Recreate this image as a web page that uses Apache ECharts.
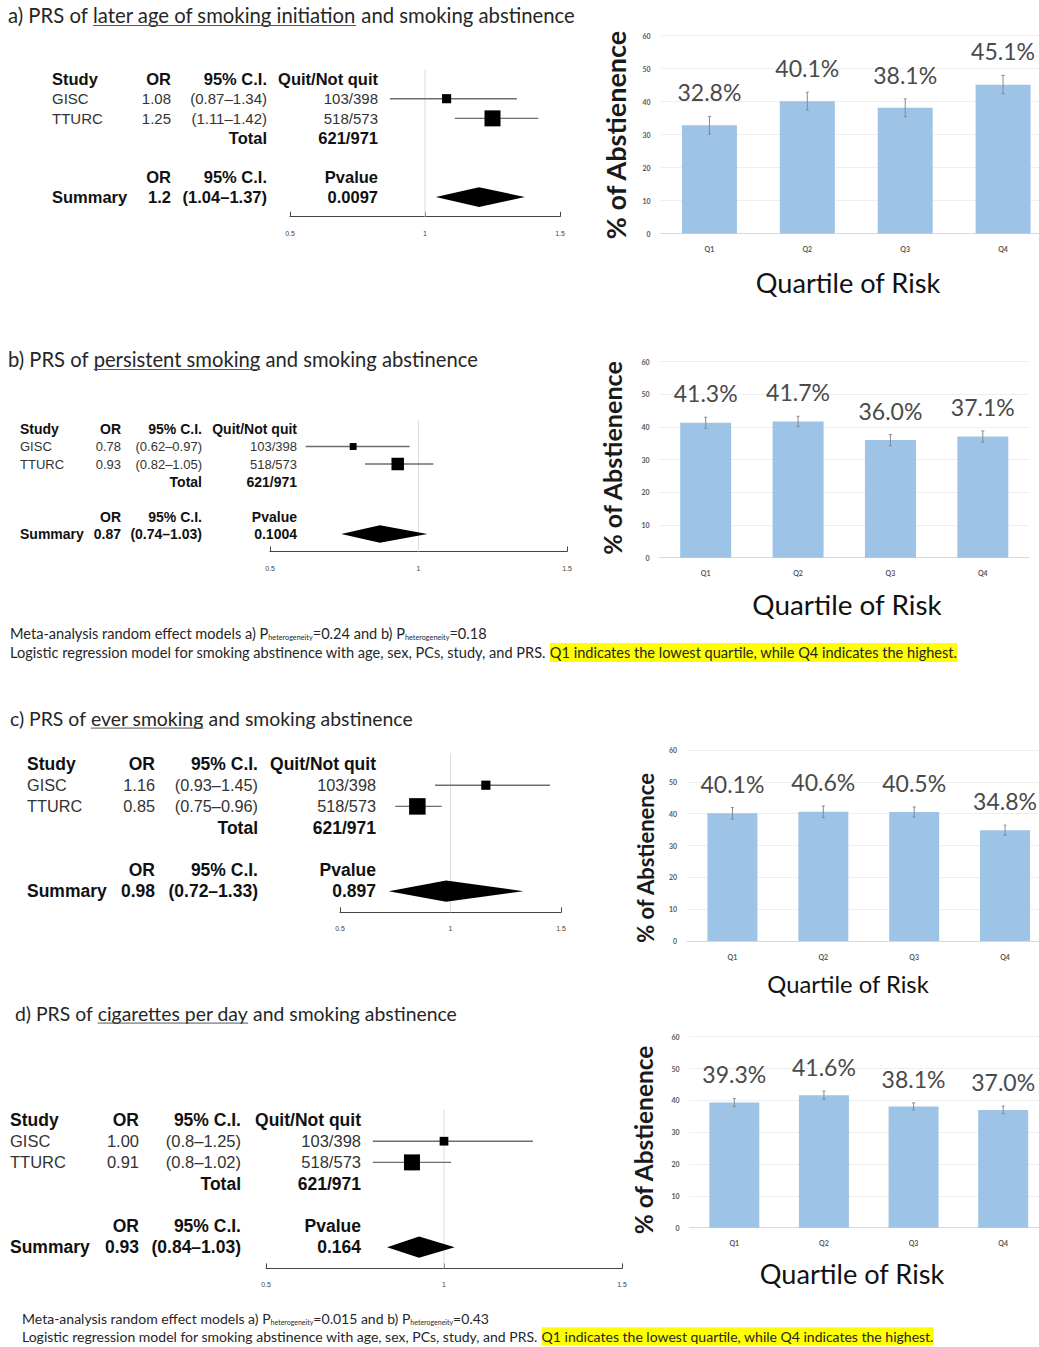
<!DOCTYPE html>
<html>
<head>
<meta charset="utf-8">
<script src="https://cdn.jsdelivr.net/npm/echarts@6/dist/echarts.min.js"></script>
<style>
  html, body { margin: 0; padding: 0; background: #ffffff; }
  #chart { width: 1039px; height: 1347px; }
</style>
</head>
<body>
<div id="chart"></div>
<script>
// ---------------- data ----------------
const panelLetters = ['a', 'b', 'c', 'd'];
const prsTraits = ['later age of smoking initiation', 'persistent smoking', 'ever smoking', 'cigarettes per day'];

const studyNames = ['GISC', 'TTURC'];
const studyQuitNotQuit = ['103/398', '518/573'];
const totalQuitNotQuit = '621/971';

// odds ratios and 95% CI per study, as printed in the tables
const studyOR     = [['1.08', '1.25'], ['0.78', '0.93'], ['1.16', '0.85'], ['1.00', '0.91']];
const studyCILow  = [['0.87', '1.11'], ['0.62', '0.82'], ['0.93', '0.75'], ['0.8', '0.8']];
const studyCIHigh = [['1.34', '1.42'], ['0.97', '1.05'], ['1.45', '0.96'], ['1.25', '1.02']];

// random-effects summary per panel
const summaryOR     = ['1.2', '0.87', '0.98', '0.93'];
const summaryCILow  = ['1.04', '0.74', '0.72', '0.84'];
const summaryCIHigh = ['1.37', '1.03', '1.33', '1.03'];
const summaryPvalue = ['0.0097', '0.1004', '0.897', '0.164'];

const orAxisMin = 0.5, orAxisMax = 1.5, orAxisStep = 0.5, orNull = 1;

// abstinence by PRS quartile
const quartiles = ['Q1', 'Q2', 'Q3', 'Q4'];
const abstinencePct = [
  [32.8, 40.1, 38.1, 45.1],
  [41.3, 41.7, 36.0, 37.1],
  [40.1, 40.6, 40.5, 34.8],
  [39.3, 41.6, 38.1, 37.0]
];
const abstinenceErr = [
  [2.7, 2.7, 2.7, 2.8],
  [1.7, 1.6, 1.7, 1.7],
  [1.8, 1.8, 1.6, 1.6],
  [1.3, 1.3, 1.1, 1.2]
];
const pctAxisMax = 60, pctAxisStep = 10;

const heterogeneityP = [['0.24', '0.18'], ['0.015', '0.43']];
const footnoteModel = 'Logistic regression model for smoking abstinence with age, sex, PCs, study, and PRS. ';
const footnoteQuartiles = 'Q1 indicates the lowest quartile, while Q4 indicates the highest.';

// ---------------- layout ----------------
const ROW_MIN = -0.5, ROW_MAX = 7;   // table rows 0..6 plus room for the axis
const FOREST_FONT = '"Liberation Sans", Arial, sans-serif';
const SANS = 'Lato, "Open Sans", sans-serif';

const forestLayout = [
  { top: 69.2,   rowH: 19.67, left: 290, width: 270, cols: [52, 171, 267, 378], fsB: 16.5, fsR: 15.0, maxBox: 16 },
  { top: 420.25, rowH: 17.5,  left: 270, width: 297, cols: [20, 121, 202, 297], fsB: 14.0, fsR: 13.0, maxBox: 12.5 },
  { top: 753.4,  rowH: 21.2,  left: 340, width: 221, cols: [27, 155, 258, 376], fsB: 17.5, fsR: 16.3, maxBox: 16.5 },
  { top: 1109.4, rowH: 21.2,  left: 266, width: 356, cols: [10, 139, 241, 361], fsB: 17.5, fsR: 16.5, maxBox: 16 }
];
// bar grids run slightly past the right edge of the canvas
const barLayout = [
  { left: 660.5, width: 391.5, top: 35.5,   height: 198, barWidth: 55,
    yTitle: [615, 135, 210], xTitle: [848, 282, 185] },
  { left: 659.5, width: 369.5, top: 361.7,  height: 196, barWidth: 51,
    yTitle: [612, 458, 195], xTitle: [847, 604, 190] },
  { left: 687,   width: 363.5, top: 750,    height: 191, barWidth: 50,
    yTitle: [645, 858, 171], xTitle: [848, 984, 162] },
  { left: 689.5, width: 358.5, top: 1036.7, height: 191, barWidth: 50,
    yTitle: [643, 1140, 190], xTitle: [852, 1273, 185] }
];
const titleLayout = [[8, 15, 567], [8, 359, 470], [10, 718, 403], [15, 1013, 442]];
const footLayout = [[10, 633, 652, 948], [22, 1318, 1336, 913]];

// ---------------- helpers ----------------
const measureCtx = document.createElement('canvas').getContext('2d');
function textWidth(t, size, weight, family) {
  measureCtx.font = weight + ' ' + size + 'px ' + family;
  return measureCtx.measureText(t).width;
}
function fitSize(t, weight, family, target) {
  return 40 * target / textWidth(t, 40, weight, family);
}
// a horizontal run of text pieces (optionally underlined / highlighted / shifted)
function textRun(x, y, segs) {
  const els = [];
  let cx = x;
  segs.forEach(s => {
    const w = textWidth(s.text, s.size, s.weight, s.family);
    if (s.highlight) {
      els.push({ type: 'rect', z: 1, shape: { x: cx, y: y - s.size * 0.62, width: w, height: s.size * 1.3 },
        style: { fill: s.highlight } });
    }
    els.push({ type: 'text', z: 2, x: cx, y: y + (s.dy || 0),
      style: { text: s.text, fontSize: s.size, fontWeight: s.weight, fontFamily: s.family, fill: s.color,
               align: 'left', verticalAlign: 'middle', textAlign: 'left', textVerticalAlign: 'middle' } });
    if (s.underline) {
      const uy = y + s.size * 0.52;
      els.push({ type: 'line', z: 2, shape: { x1: cx, y1: uy, x2: cx + w, y2: uy },
        style: { stroke: '#555', lineWidth: 1 } });
    }
    cx += w;
  });
  return els;
}

// ---------------- build option ----------------
const grids = [], xAxes = [], yAxes = [], series = [], graphics = [];

panelLetters.forEach((letter, p) => {
  const L = forestLayout[p];
  const gi = 2 * p;       // forest plot grid / axes
  const bi = 2 * p + 1;   // quartile bar chart grid / axes

  grids.push({ left: L.left, top: L.top, width: L.width, height: L.rowH * (ROW_MAX - ROW_MIN), outerBoundsMode: 'none' });
  xAxes.push({
    gridIndex: gi, type: 'value', min: orAxisMin, max: orAxisMax, interval: orAxisStep,
    axisLine: { onZero: false, lineStyle: { color: '#444', width: 1 } },
    axisTick: { inside: true, length: 5, lineStyle: { color: '#444', width: 1 } },
    axisLabel: { fontSize: 7, color: '#444', margin: 13, fontFamily: FOREST_FONT },
    splitLine: { show: false }
  });
  yAxes.push({ gridIndex: gi, type: 'value', min: ROW_MIN, max: ROW_MAX, inverse: true, show: false });

  // reference line at OR = 1
  series.push({
    type: 'custom', xAxisIndex: gi, yAxisIndex: gi, silent: true, clip: false,
    data: [[orNull, ROW_MIN]],
    encode: { x: 0, y: 1 },
    renderItem: (params, api) => {
      const a = api.coord([api.value(0), ROW_MIN]);
      const b = api.coord([api.value(0), ROW_MAX]);
      return { type: 'line', shape: { x1: a[0], y1: a[1], x2: b[0], y2: b[1] },
               style: { stroke: '#dcdcdc', lineWidth: 1 } };
    }
  });

  // study estimates: CI line + box sized by precision
  const se = studyOR[p].map((_, i) => Math.log(parseFloat(studyCIHigh[p][i]) / parseFloat(studyCILow[p][i])));
  const minSe = Math.min.apply(null, se);
  series.push({
    type: 'custom', xAxisIndex: gi, yAxisIndex: gi, silent: true, clip: false,
    data: studyOR[p].map((o, i) => [parseFloat(o), i + 1, parseFloat(studyCILow[p][i]), parseFloat(studyCIHigh[p][i]), L.maxBox * minSe / se[i]]),
    encode: { x: 0, y: 1 },
    renderItem: (params, api) => {
      const c = api.coord([api.value(0), api.value(1)]);
      const lo = api.coord([api.value(2), api.value(1)]);
      const hi = api.coord([api.value(3), api.value(1)]);
      const s = api.value(4);
      return { type: 'group', children: [
        { type: 'line', shape: { x1: lo[0], y1: lo[1], x2: hi[0], y2: hi[1] }, style: { stroke: '#6e6e6e', lineWidth: 1.4 } },
        { type: 'rect', shape: { x: c[0] - s / 2, y: c[1] - s / 2, width: s, height: s }, style: { fill: '#000' } }
      ] };
    }
  });

  // summary diamond
  series.push({
    type: 'custom', xAxisIndex: gi, yAxisIndex: gi, silent: true, clip: false,
    data: [[parseFloat(summaryOR[p]), 6, parseFloat(summaryCILow[p]), parseFloat(summaryCIHigh[p])]],
    encode: { x: 0, y: 1 },
    renderItem: (params, api) => {
      const row = api.value(1);
      const c = api.coord([api.value(0), row]);
      const lo = api.coord([api.value(2), row]);
      const hi = api.coord([api.value(3), row]);
      const h = L.rowH * 0.5;
      return { type: 'polygon', shape: { points: [[lo[0], c[1]], [c[0], c[1] - h], [hi[0], c[1]], [c[0], c[1] + h]] },
               style: { fill: '#000' } };
    }
  });

  // table text
  const cells = [];
  const add = (row, col, text, bold) => cells.push({ row, col, text, bold });
  add(0, 0, 'Study', true); add(0, 1, 'OR', true); add(0, 2, '95% C.I.', true); add(0, 3, 'Quit/Not quit', true);
  studyNames.forEach((n, i) => {
    add(i + 1, 0, n, false);
    add(i + 1, 1, studyOR[p][i], false);
    add(i + 1, 2, '(' + studyCILow[p][i] + '\u2013' + studyCIHigh[p][i] + ')', false);
    add(i + 1, 3, studyQuitNotQuit[i], false);
  });
  add(3, 2, 'Total', true); add(3, 3, totalQuitNotQuit, true);
  add(5, 1, 'OR', true); add(5, 2, '95% C.I.', true); add(5, 3, 'Pvalue', true);
  add(6, 0, 'Summary', true); add(6, 1, summaryOR[p], true);
  add(6, 2, '(' + summaryCILow[p] + '\u2013' + summaryCIHigh[p] + ')', true); add(6, 3, summaryPvalue[p], true);

  series.push({
    type: 'custom', xAxisIndex: gi, yAxisIndex: gi, silent: true, clip: false,
    data: cells.map(c => [orAxisMin, c.row]),
    encode: { x: 0, y: 1 },
    renderItem: (params, api) => {
      const cell = cells[params.dataIndex];
      const y = api.coord([orAxisMin, api.value(1)])[1];
      const al = cell.col === 0 ? 'left' : 'right';
      return { type: 'text', x: L.cols[cell.col], y: y,
        style: { text: cell.text, fontFamily: FOREST_FONT, fontSize: cell.bold ? L.fsB : L.fsR,
                 fontWeight: cell.bold ? 'bold' : 'normal', fill: cell.bold ? '#111' : '#333',
                 align: al, textAlign: al, verticalAlign: 'middle', textVerticalAlign: 'middle' } };
    }
  });

  // ---- quartile bar chart ----
  const B = barLayout[p];
  grids.push({ left: B.left, width: B.width, top: B.top, height: B.height, outerBoundsMode: 'none' });
  xAxes.push({
    gridIndex: bi, type: 'category', data: quartiles,
    axisLine: { lineStyle: { color: '#d9d9d9', width: 1.2 } },
    axisTick: { show: false },
    axisLabel: { fontSize: 7, color: '#595959', margin: 12, fontFamily: SANS, fontWeight: 'bold' }
  });
  yAxes.push({
    gridIndex: bi, type: 'value', min: 0, max: pctAxisMax, interval: pctAxisStep,
    axisLine: { show: false }, axisTick: { show: false },
    axisLabel: { fontSize: 7, color: '#595959', margin: 10, fontFamily: SANS, fontWeight: 'bold' },
    splitLine: { lineStyle: { color: '#efefef', width: 1 } }
  });
  series.push({
    type: 'bar', xAxisIndex: bi, yAxisIndex: bi, silent: true,
    barWidth: B.barWidth,
    itemStyle: { color: '#9dc3e6' },
    data: abstinencePct[p]
  });
  const valueFs = fitSize('32.8%', 'normal', SANS, 64);
  series.push({
    type: 'custom', xAxisIndex: bi, yAxisIndex: bi, silent: true, clip: false, z: 5,
    data: abstinencePct[p].map((v, i) => [i, v, abstinenceErr[p][i]]),
    encode: { x: 0, y: 1 },
    renderItem: (params, api) => {
      const i = api.value(0), v = api.value(1), e = api.value(2);
      const top = api.coord([i, v + e]);
      const bot = api.coord([i, v - e]);
      const cap = 1.5;
      return { type: 'group', children: [
        { type: 'line', shape: { x1: top[0], y1: top[1], x2: bot[0], y2: bot[1] }, style: { stroke: '#8a8a8a', lineWidth: 1 } },
        { type: 'line', shape: { x1: top[0] - cap, y1: top[1], x2: top[0] + cap, y2: top[1] }, style: { stroke: '#8a8a8a', lineWidth: 1 } },
        { type: 'line', shape: { x1: bot[0] - cap, y1: bot[1], x2: bot[0] + cap, y2: bot[1] }, style: { stroke: '#8a8a8a', lineWidth: 1 } },
        { type: 'text', x: top[0], y: top[1] - 24,
          style: { text: v.toFixed(1) + '%', fontFamily: SANS, fontSize: valueFs, fill: '#4a4a4a',
                   align: 'center', textAlign: 'center', verticalAlign: 'middle', textVerticalAlign: 'middle' } }
      ] };
    }
  });

  // axis titles
  const yt = B.yTitle, xt = B.xTitle;
  const ytText = '% of Abstienence', xtText = 'Quartile of Risk';
  graphics.push({ type: 'text', x: yt[0], y: yt[1], rotation: Math.PI / 2,
    style: { text: ytText, fontFamily: SANS, fontWeight: 'bold', fontSize: fitSize(ytText, 'bold', SANS, yt[2]), fill: '#1a1a1a',
             align: 'center', textAlign: 'center', verticalAlign: 'middle', textVerticalAlign: 'middle' } });
  graphics.push({ type: 'text', x: xt[0], y: xt[1],
    style: { text: xtText, fontFamily: SANS, fontWeight: 'normal', fontSize: fitSize(xtText, 'normal', SANS, xt[2]), fill: '#111',
             align: 'center', textAlign: 'center', verticalAlign: 'middle', textVerticalAlign: 'middle' } });

  // panel title with the PRS trait underlined
  const T = titleLayout[p];
  const pre = letter + ') PRS of ', post = ' and smoking abstinence';
  const tfs = fitSize(pre + prsTraits[p] + post, 'normal', SANS, T[2]);
  const base = { size: tfs, weight: 'normal', family: SANS, color: '#262626' };
  textRun(T[0], T[1], [
    Object.assign({ text: pre }, base),
    Object.assign({ text: prsTraits[p], underline: true }, base),
    Object.assign({ text: post }, base)
  ]).forEach(e => graphics.push(e));
});

// footnotes
footLayout.forEach((F, k) => {
  const fs = fitSize(footnoteModel + footnoteQuartiles, 'normal', SANS, F[3]);
  const sub = fs * 0.5;
  const n = { size: fs, weight: 'normal', family: SANS, color: '#262626' };
  const s = { size: sub, weight: 'normal', family: SANS, color: '#262626', dy: fs * 0.28 };
  textRun(F[0], F[1], [
    Object.assign({ text: 'Meta-analysis random effect models a) P' }, n),
    Object.assign({ text: 'heterogeneity' }, s),
    Object.assign({ text: '=' + heterogeneityP[k][0] + ' and b) P' }, n),
    Object.assign({ text: 'heterogeneity' }, s),
    Object.assign({ text: '=' + heterogeneityP[k][1] }, n)
  ]).forEach(e => graphics.push(e));
  textRun(F[0], F[2], [
    Object.assign({ text: footnoteModel }, n),
    Object.assign({ text: footnoteQuartiles, highlight: '#ffff00' }, n)
  ]).forEach(e => graphics.push(e));
});

const chart = echarts.init(document.getElementById('chart'), null, { renderer: 'svg', width: 1039, height: 1347 });
chart.setOption({
  animation: false,
  backgroundColor: '#ffffff',
  grid: grids,
  xAxis: xAxes,
  yAxis: yAxes,
  series: series,
  graphic: { elements: graphics }
});
</script>
</body>
</html>
